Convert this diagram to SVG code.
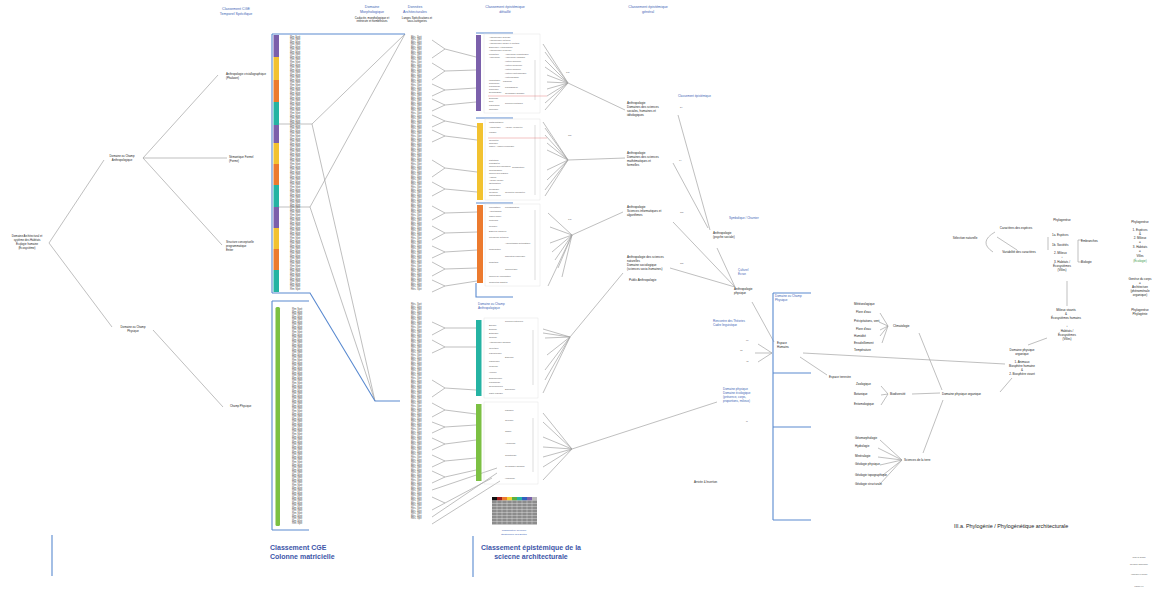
<svg xmlns="http://www.w3.org/2000/svg" xmlns:xlink="http://www.w3.org/1999/xlink" width="1157" height="597" viewBox="0 0 1157 597">
<style>
.g{stroke:#a3a3a3;stroke-width:.7;fill:none}
.b{stroke:#5a8ad0;stroke-width:1.1;fill:none}
.r{stroke:#e06565;stroke-width:.4;fill:none}
.bx{stroke:#e4e4e4;stroke-width:.5;fill:none}
.vl{stroke:#b8b8b8;stroke-width:.5;fill:none}
text{font-family:"Liberation Sans",Arial,sans-serif;fill:#222}
.t{font-size:3px}
.tl{font-size:2.8px}
.s{font-size:2.1px;fill:#555}
.h{font-size:3.6px;fill:#3d5fb5}
.hb{font-size:3px;fill:#3d5fb5}
.ti{font-size:2.9px;fill:#555}
.tj{font-size:2.6px;fill:#555}
.big{font-size:7px;font-weight:bold;fill:#3d55a8}
.m{text-anchor:middle}
</style>
<defs>
<g id="rm10"><text class="ti"><tspan x="0" y="0">Rm Spé</tspan><tspan x="0" y="2.55">Rm Spé</tspan><tspan x="0" y="5.1">Rm Spé</tspan><tspan x="0" y="7.65">Rm Spé</tspan><tspan x="0" y="10.2">Rm Spé</tspan><tspan x="0" y="12.75">Rm Spé</tspan><tspan x="0" y="15.3">Rm Spé</tspan><tspan x="0" y="17.85">Rm Spé</tspan><tspan x="0" y="20.4">Rm Spé</tspan><tspan x="0" y="22.95">Rm Spé</tspan></text></g>
<g id="rm5"><text class="ti"><tspan x="0" y="0">Rm Spé</tspan><tspan x="0" y="2.55">Rm Spé</tspan><tspan x="0" y="5.1">Rm Spé</tspan><tspan x="0" y="7.65">Rm Spé</tspan><tspan x="0" y="10.2">Rm Spé</tspan></text></g>
<g id="rs10"><text class="tj"><tspan x="0" y="0">Rés. Spé</tspan><tspan x="0" y="2.55">Rés. Spé</tspan><tspan x="0" y="5.1">Rés. Spé</tspan><tspan x="0" y="7.65">Rés. Spé</tspan><tspan x="0" y="10.2">Rés. Spé</tspan><tspan x="0" y="12.75">Rés. Spé</tspan><tspan x="0" y="15.3">Rés. Spé</tspan><tspan x="0" y="17.85">Rés. Spé</tspan><tspan x="0" y="20.4">Rés. Spé</tspan><tspan x="0" y="22.95">Rés. Spé</tspan></text></g>
<g id="rs5"><text class="tj"><tspan x="0" y="0">Rés. Spé</tspan><tspan x="0" y="2.55">Rés. Spé</tspan><tspan x="0" y="5.1">Rés. Spé</tspan><tspan x="0" y="7.65">Rés. Spé</tspan><tspan x="0" y="10.2">Rés. Spé</tspan></text></g>
</defs>
<rect width="1157" height="597" fill="#fff"/>

<!-- headers -->
<g id="headers">
<text class="h m" x="236" y="10">Classement CGE</text>
<text class="h m" x="236" y="15">Temporel Spécifique</text>
<text class="h m" x="372" y="8">Domaine</text>
<text class="h m" x="372" y="12.5">Morphologique</text>
<text class="tl m" x="372" y="19">Caducée, morphologique et</text>
<text class="tl m" x="372" y="22">intérieure et nombreuses</text>
<text class="h m" x="415" y="8">Données</text>
<text class="h m" x="415" y="12.5">Architecturales</text>
<text class="tl m" x="417" y="19">Langes Spécifications et</text>
<text class="tl m" x="417" y="22">sous-catégories</text>
<text class="h m" x="505" y="8">Classement épistémique</text>
<text class="h m" x="505" y="12.5">détaillé</text>
<text class="h m" x="648" y="8">Classement épistémique</text>
<text class="h m" x="648" y="12.5">général</text>
</g>

<!-- connectors -->
<g id="connectors">
<path class="g" d="M49,243L104,160M49,243L112,327M143,158L218,75M143,158L227,158M143,158L222,245M153,330L223,407"/>
<path class="g" d="M279,124H312L405,34M312,124L375,401M279,207H310L405,34M310,207L375,401"/>
<path class="g" d="M432,40L445,49L432,58M445,49L476,57M432,63L445,71L432,80M445,71L476,70M432,84L445,90L432,96M445,90L476,88M432,99L445,105L432,111M445,105L476,102M432,115L445,121L432,127M445,121L477,127M432,130L445,136L432,142M445,136L477,140M432,160L445,168L432,177M445,168L477,172M432,182L445,189L432,196M445,189L477,192M432,206L445,213L432,220M445,213L477,212M432,226L445,233L432,240M445,233L477,232M432,246L445,252L432,258M445,252L477,250M432,262L445,269L432,276M445,269L477,268M432,280L445,286L432,292M445,286L477,281"/>
<path class="g" d="M432,322L445,328L432,335M445,328L476,328M432,340L445,347L432,353M445,347L476,347M432,380L445,388L432,397M445,388L476,390M432,403L445,410L432,417M445,410L476,414M432,422L445,427L432,433M445,427L476,425M432,438L445,444L432,450M445,444L476,440M432,455L445,461L432,467M445,461L476,458M432,471L445,477L432,483M445,477L476,470M432,490L497,468M432,497L445,503L432,510M445,503L492,478M432,517L497,473M432,524L500,481"/>
<path class="g" d="M543,44L568,83M545,52L568,83M545,60L568,83M545,67L568,83M547,75L568,83M547,82L568,83M547,89L568,83M547,96L568,83M545,103L568,83M545,110L568,83M568,83L625,110"/>
<path class="g" d="M543,122L568,160M545,128L568,160M545,135L568,160M547,143L568,160M547,150L568,160M547,170L568,160M547,180L568,160M545,190L568,160M545,196L568,160M568,160L625,158"/>
<path class="g" d="M548,213L572,235M550,227L572,235M550,243L572,235M552,252L572,235M555,260L572,235M558,268L572,235M562,277L572,235M548,286L572,235M572,235L623,212"/>
<path class="g" d="M543,329L570,337M543,333L570,337M545,338L570,337M547,355L570,337M545,370L570,337M545,380L570,337M543,393L570,337M570,337L623,273"/>
<path class="g" d="M543,413L572,449M543,422L572,449M543,437L572,449M543,447L572,449M543,457L572,449M543,467L572,449M543,480L572,449M572,449L717,402"/>
<path class="g" d="M678,115L710,230M673,163L708,228M673,222L735,287M670,268L735,287M717,248L735,287M752,302L774,342M758,344L772,353M755,353L772,353M758,362L772,353"/>
<path class="g" d="M803,353L1005,364M800,357L827,375"/>
<path class="g" d="M880,313L888,326M879,322L888,326M880,330L888,326M880,336L888,326M882,343L888,326M919,333L942,390"/>
<path class="g" d="M881,386L888,394M881,395L888,394M881,405L888,394M912,394L940,393"/>
<path class="g" d="M880,440L902,460M878,448L902,460M878,457L902,460M880,465L902,460M883,475L902,460M880,484L902,460M923,453L943,400"/>
<path class="g" d="M1000,392L1012,378M1028,345L1047,338M1067,281V306M997,237L1017,250M995,232Q978,242 993,252M1048,237V250M1078,240V262M1078,240H1082M1078,262H1082"/>
<path class="b" d="M272,34V293M272,34H405M272,293H310L375,401H400M272,301V530M272,301H309M272,530H309"/>
<path class="b" d="M476,33H513M476,118H513M476,203H513M476,283V297H513"/>
<path class="b" d="M773,293V520M773,293H811M773,373H811M773,427H811M773,520H811"/>
<path class="b" d="M52,535V576M473,536V577"/>
</g>

<!-- left tree -->
<g id="n-root"><text class="tl m" x="27" y="237">Domaine Architectural et</text><text class="tl m" x="27" y="241">système des Habitats</text><text class="tl m" x="27" y="245">Écologie humaine</text><text class="tl m" x="27" y="249">(Écosystème)</text></g>
<g id="n-anthro"><text class="tl m" x="122" y="157">Domaine ou Champ</text><text class="tl m" x="122" y="161">Anthropologique</text></g>
<g id="n-phys"><text class="tl m" x="133" y="328">Domaine ou Champ</text><text class="tl m" x="133" y="332">Physique</text></g>
<g id="n-a1"><text class="tl" x="226" y="75">Anthropologie cristallographique</text><text class="tl" x="226" y="79">(Phakoon)</text></g>
<g id="n-a2"><text class="tl" x="229" y="158">Sémantique Formel</text><text class="tl" x="229" y="162">(Forme)</text></g>
<g id="n-a3"><text class="tl" x="226" y="243">Structure conceptuelle</text><text class="tl" x="226" y="247">programmatique</text><text class="tl" x="226" y="251">Entier</text></g>
<g id="n-p1"><text class="tl" x="230" y="407">Champ Physique</text></g>

<!-- CGE column -->
<g id="n-cge">
<rect x="273.5" y="35" width="5.5" height="22" fill="#7b60ab"/>
<rect x="273.5" y="57" width="5.5" height="23" fill="#f2c230"/>
<rect x="273.5" y="80" width="5.5" height="22" fill="#ec7a2e"/>
<rect x="273.5" y="102" width="5.5" height="23" fill="#25b3a3"/>
<rect x="273.5" y="125" width="5.5" height="18" fill="#7b60ab"/>
<rect x="273.5" y="143" width="5.5" height="21" fill="#f2c230"/>
<rect x="273.5" y="164" width="5.5" height="21" fill="#ec7a2e"/>
<rect x="273.5" y="185" width="5.5" height="22" fill="#25b3a3"/>
<rect x="273.5" y="207" width="5.5" height="21" fill="#7b60ab"/>
<rect x="273.5" y="228" width="5.5" height="21" fill="#f2c230"/>
<rect x="273.5" y="249" width="5.5" height="21" fill="#ec7a2e"/>
<rect x="273.5" y="270" width="5.5" height="22" fill="#25b3a3"/>
<rect x="275.5" y="307" width="4.5" height="219" rx="1.5" fill="#7cc043"/>
<use xlink:href="#rm10" x="290" y="37.5"/><use xlink:href="#rm10" x="290" y="63"/><use xlink:href="#rm10" x="290" y="88.5"/><use xlink:href="#rm10" x="290" y="114"/><use xlink:href="#rm10" x="290" y="139.5"/><use xlink:href="#rm10" x="290" y="165"/><use xlink:href="#rm10" x="290" y="190.5"/><use xlink:href="#rm10" x="290" y="216"/><use xlink:href="#rm10" x="290" y="241.5"/><use xlink:href="#rm10" x="290" y="267"/>
<use xlink:href="#rm10" x="292" y="310"/><use xlink:href="#rm10" x="292" y="335.5"/><use xlink:href="#rm10" x="292" y="361"/><use xlink:href="#rm10" x="292" y="386.5"/><use xlink:href="#rm10" x="292" y="412"/><use xlink:href="#rm10" x="292" y="437.5"/><use xlink:href="#rm10" x="292" y="463"/><use xlink:href="#rm10" x="292" y="488.5"/><use xlink:href="#rm5" x="292" y="514"/>
</g>

<!-- column 2 -->
<g id="n-col2">
<use xlink:href="#rs10" x="411" y="37.5"/><use xlink:href="#rs10" x="411" y="63"/><use xlink:href="#rs10" x="411" y="88.5"/><use xlink:href="#rs10" x="411" y="114"/><use xlink:href="#rs10" x="411" y="139.5"/><use xlink:href="#rs10" x="411" y="165"/><use xlink:href="#rs10" x="411" y="190.5"/><use xlink:href="#rs10" x="411" y="216"/><use xlink:href="#rs10" x="411" y="241.5"/><use xlink:href="#rs10" x="411" y="267"/>
<use xlink:href="#rs10" x="411" y="305"/><use xlink:href="#rs10" x="411" y="330.5"/><use xlink:href="#rs10" x="411" y="356"/><use xlink:href="#rs10" x="411" y="381.5"/><use xlink:href="#rs10" x="411" y="407"/><use xlink:href="#rs10" x="411" y="432.5"/><use xlink:href="#rs10" x="411" y="458"/><use xlink:href="#rs10" x="411" y="483.5"/><use xlink:href="#rs5" x="411" y="509"/>
</g>

<!-- epistemic detailed boxes -->
<g id="n-ep-purple">
<rect x="476" y="35" width="5" height="76" fill="#7b60ab"/>
<rect class="bx" x="484" y="34" width="56" height="79"/>
<path class="vl" d="M535,60V100"/><path class="r" d="M488,96H547"/>
<text class="s" x="489" y="38">Anthropologie générale</text>
<text class="s" x="489" y="41">Anthropologie culturelle</text>
<text class="s" x="489" y="44">Anthropologie sociale et politique</text>
<text class="s" x="489" y="48">Ethnologie / ethnographie</text>
<text class="s" x="489" y="51">Anthropologie religieuse</text>
<text class="s" x="489" y="55">Préhistoire</text><text class="s" x="505" y="55">Archéologie préhistorique</text>
<text class="s" x="489" y="58">Archéologie</text><text class="s" x="505" y="58">Archéologie classique</text>
<text class="s" x="505" y="62">Histoire ancienne</text>
<text class="s" x="505" y="66">Histoire médiévale</text>
<text class="s" x="505" y="70">Histoire moderne</text>
<text class="s" x="505" y="74">Histoire contemporaine</text>
<text class="s" x="505" y="78">Historiographie</text>
<text class="s" x="489" y="81">Linguistique</text><text class="s" x="503" y="82">Philologie</text>
<text class="s" x="489" y="84">Sémiologie</text>
<text class="s" x="489" y="87">Psychologie</text><text class="s" x="505" y="88">Psychanalyse</text>
<text class="s" x="489" y="90">Sociologie</text>
<text class="s" x="489" y="93">Démographie</text><text class="s" x="505" y="94">Géographie humaine</text>
<text class="s" x="489" y="99">Économie</text>
<text class="s" x="489" y="102">Droit</text><text class="s" x="505" y="104">Sciences politiques</text>
<text class="s" x="489" y="106">Philosophie</text>
<text class="s" x="489" y="110">Théologie</text>
</g>
<g id="n-ep-yellow">
<rect x="477" y="123" width="6" height="77" fill="#f2c230"/>
<rect class="bx" x="485" y="119" width="55" height="81"/>
<path class="vl" d="M535,125V195"/><path class="r" d="M488,138H547"/>
<text class="s" x="489" y="123">Mathématiques</text>
<text class="s" x="489" y="128">Arithmétique</text><text class="s" x="505" y="128">Algèbre, géométrie</text>
<text class="s" x="489" y="133">Logique</text>
<text class="s" x="489" y="141">Géométrie</text>
<text class="s" x="489" y="144">Topologie</text>
<text class="s" x="489" y="147">Calcul / Analyse numérique</text>
<text class="s" x="489" y="161">Statistique</text>
<text class="s" x="489" y="164">Probabilités</text>
<text class="s" x="489" y="167">Théorie des ensembles</text><text class="s" x="512" y="168">Combinatoire</text>
<text class="s" x="489" y="171">Cryptographie</text>
<text class="s" x="489" y="174">Théorie des graphes</text>
<text class="s" x="489" y="178">Analyse</text>
<text class="s" x="489" y="181">Algèbre linéaire</text>
<text class="s" x="489" y="184">Optimisation</text>
<text class="s" x="489" y="190">Mécanique</text>
<text class="s" x="489" y="193">Géodésie</text><text class="s" x="505" y="193">Géométrie descriptive</text>
<text class="s" x="489" y="196">Cartographie</text>
</g>
<g id="n-ep-orange">
<rect x="477" y="205" width="6" height="78" fill="#ec7a2e"/>
<rect class="bx" x="485" y="204" width="55" height="82"/>
<path class="vl" d="M535,210V280"/>
<text class="s" x="489" y="208">Informatique</text><text class="s" x="505" y="208">Programmation</text>
<text class="s" x="489" y="212">Algorithmique</text>
<text class="s" x="489" y="217">Calcul formel</text>
<text class="s" x="489" y="221">Systèmes</text>
<text class="s" x="489" y="227">Réseaux</text>
<text class="s" x="489" y="232">Bases de données</text>
<text class="s" x="489" y="238">Intelligence artificielle</text>
<text class="s" x="505" y="244">Apprentissage automatique</text>
<text class="s" x="489" y="250">Modélisation</text>
<text class="s" x="505" y="257">Simulation numérique</text>
<text class="s" x="489" y="263">Robotique</text>
<text class="s" x="505" y="270">Cybernétique</text>
<text class="s" x="489" y="277">Théorie de l'information</text>
<text class="s" x="489" y="283">Conception assistée</text>
</g>
<g id="n-ep-teal">
<text class="hb" x="478" y="305">Domaine ou Champ</text><text class="hb" x="478" y="309">Anthropologique</text>
<rect x="476" y="320" width="5.5" height="76" fill="#25b3a3"/>
<rect class="bx" x="484" y="318" width="54" height="80"/>
<path class="vl" d="M533,330V385"/>
<text class="s" x="505" y="322">Sciences naturelles</text>
<text class="s" x="489" y="326">Biologie</text>
<text class="s" x="489" y="330">Écologie</text>
<text class="s" x="489" y="334">Botanique</text>
<text class="s" x="489" y="338">Zoologie</text>
<text class="s" x="489" y="343">Anthropologie physique</text>
<text class="s" x="489" y="349">Génétique</text>
<text class="s" x="489" y="354">Paléontologie</text>
<text class="s" x="505" y="358">Éthologie</text>
<text class="s" x="489" y="362">Physiologie</text>
<text class="s" x="489" y="367">Médecine</text>
<text class="s" x="489" y="373">Hygiène</text>
<text class="s" x="489" y="379">Épidémiologie</text>
<text class="s" x="489" y="383">Psychologie</text>
<text class="s" x="489" y="387">Neurosciences</text>
<text class="s" x="505" y="390">Ergonomie</text>
<text class="s" x="489" y="394">Santé publique</text>
</g>
<g id="n-ep-green">
<rect x="476" y="404" width="5.5" height="77" fill="#7cc043"/>
<rect class="bx" x="484" y="402" width="54" height="82"/>
<path class="vl" d="M533,418V472"/>
<text class="s" x="505" y="411">Physique</text>
<text class="s" x="505" y="421">Géologie</text>
<text class="s" x="505" y="432">Chimie</text>
<text class="s" x="505" y="444">Astronomie</text>
<text class="s" x="505" y="456">Climatologie</text>
<text class="s" x="505" y="467">Géographie physique</text>
<text class="s" x="505" y="479">Hydrologie</text>
</g>
<g id="n-chart">
<rect x="492" y="497" width="5" height="3.5" fill="#111"/><rect x="497" y="497" width="5" height="3.5" fill="#a02020"/><rect x="502" y="497" width="5" height="3.5" fill="#ec7a2e"/><rect x="507" y="497" width="5" height="3.5" fill="#f2d030"/><rect x="512" y="497" width="5" height="3.5" fill="#5cb040"/><rect x="517" y="497" width="5" height="3.5" fill="#25b3a3"/><rect x="522" y="497" width="5" height="3.5" fill="#3060c0"/><rect x="527" y="497" width="5" height="3.5" fill="#7b60ab"/><rect x="532" y="497" width="5" height="3.5" fill="#bbb"/>
<rect x="492" y="500.5" width="45" height="24" fill="#8c8c8c"/>
<path d="M492,503.5H537M492,506.5H537M492,509.5H537M492,512.5H537M492,515.5H537M492,518.5H537M492,521.5H537M497,500.5V524.5M502,500.5V524.5M507,500.5V524.5M512,500.5V524.5M517,500.5V524.5M522,500.5V524.5M527,500.5V524.5M532,500.5V524.5" stroke="#e8e8e8" stroke-width=".4"/>
<text class="hb m" x="514" y="531" style="font-size:2.4px">Classification Générale</text>
<text class="hb m" x="514" y="535" style="font-size:2.4px">Épistémique des Entités</text>
</g>

<!-- numbers -->
<g id="n-numbers">
<text class="s" x="566" y="73">340</text><text class="s" x="568" y="136">360</text><text class="s" x="568" y="220">340</text>
<text class="s" x="680" y="108">84</text><text class="s" x="679" y="161">74</text><text class="s" x="680" y="213">360</text><text class="s" x="680" y="264">360</text>
</g>

<!-- general -->
<g id="n-g1"><text class="t" x="627" y="104">Anthropologie</text><text class="t" x="627" y="108">Domaines des sciences</text><text class="t" x="627" y="112">sociales, humaines et</text><text class="t" x="627" y="116">idéologiques</text></g>
<g id="n-g2"><text class="t" x="627" y="154">Anthropologie</text><text class="t" x="627" y="158">Domaines des sciences</text><text class="t" x="627" y="162">mathématiques et</text><text class="t" x="627" y="166">formelles</text></g>
<g id="n-g3"><text class="t" x="627" y="208">Anthropologie</text><text class="t" x="627" y="212">Sciences informatiques et</text><text class="t" x="627" y="216">algorithmes</text></g>
<g id="n-g4"><text class="t" x="627" y="258">Anthropologie des sciences</text><text class="t" x="627" y="262">naturelles</text><text class="t" x="627" y="266">Domaine sociologique</text><text class="t" x="627" y="270">(sciences socio-humaines)</text><text class="t" x="629" y="281">Public Anthropologie</text></g>
<g id="n-ce"><text class="hb" x="678" y="97">Classement épistémique</text></g>
<g id="n-sym"><text class="hb" x="729" y="219">Symbolique / Charnier</text></g>
<g id="n-psy"><text class="t" x="713" y="234">Anthropologie</text><text class="t" x="713" y="238">(psyche sociale)</text></g>
<g id="n-cult"><text class="hb" x="738" y="271">Culturel</text><text class="hb" x="738" y="275">Écran</text></g>
<g id="n-aphys"><text class="t" x="734" y="290">Anthropologie</text><text class="t" x="734" y="294">physique</text></g>
<g id="n-dcp"><text class="hb" x="775" y="297">Domaine ou Champ</text><text class="hb" x="775" y="301">Physique</text></g>
<g id="n-renc"><text class="hb" x="713" y="322">Rencontre des Théories</text><text class="hb" x="713" y="326">Cadre linguistique</text>
<text class="s" x="746" y="341">90</text><text class="s" x="740" y="351">72</text><text class="s" x="746" y="362">48</text></g>
<g id="n-esp"><text class="t" x="777" y="344">Espace</text><text class="t" x="777" y="348">Humains</text></g>
<g id="n-dpe"><text class="hb" x="723" y="390">Domaine physique</text><text class="hb" x="723" y="394">Domaine écologique</text><text class="hb" x="723" y="398">(présence, corps,</text><text class="hb" x="723" y="402">proportions, milieux)</text></g>
<g id="n-m"><text class="s" x="746" y="422">M</text></g>
<g id="n-arr"><text class="tl" x="694" y="483">Arrivée &amp; Insertion</text></g>
<g id="n-espt"><text class="t" x="829" y="378">Espace terrestre</text></g>

<!-- physical branches -->
<g id="n-clim">
<text class="t" x="854" y="305">Météorologique</text><text class="t" x="856" y="313">Flore d'eau</text><text class="t" x="854" y="322">Précipitations, vent</text><text class="t" x="856" y="330">Flore d'eau</text><text class="t" x="854" y="337">Humidité</text><text class="t" x="854" y="344">Ensoleillement</text><text class="t" x="854" y="351">Température</text>
<text class="t" x="893" y="327">Climatologie</text>
</g>
<g id="n-bio">
<text class="t" x="856" y="385">Zoologique</text><text class="t" x="854" y="395">Botanique</text><text class="t" x="854" y="405">Entomologique</text>
<text class="t" x="890" y="395">Biodiversité</text>
</g>
<g id="n-terre">
<text class="t" x="855" y="439">Géomorphologie</text><text class="t" x="855" y="447">Hydrologie</text><text class="t" x="855" y="457">Minéralogie</text><text class="t" x="855" y="465">Géologie physique</text><text class="t" x="855" y="476">Géologie topographique</text><text class="t" x="855" y="485">Géologie structurale</text>
<text class="t" x="904" y="461">Sciences de la terre</text>
</g>
<g id="n-dpo"><text class="t" x="942" y="395">Domaine physique organique</text></g>

<!-- phylogenesis cluster -->
<g id="n-dpo2"><text class="t m" x="1022" y="351">Domaine physique</text><text class="t m" x="1022" y="355">organique</text><text class="t m" x="1022" y="363">1. Animaux</text><text class="t m" x="1022" y="367">Biosphère humaine</text><text class="t m" x="1022" y="371">&amp;</text><text class="t m" x="1022" y="375">2. Biosphère vivant</text></g>
<g id="n-hab"><text class="t m" x="1067" y="327">↓</text><text class="t m" x="1067" y="332">Habitats /</text><text class="t m" x="1067" y="336">Écosystèmes</text><text class="t m" x="1067" y="340">(Villes)</text></g>
<g id="n-mil"><text class="t m" x="1066" y="311">Milieux vivants</text><text class="t m" x="1066" y="315">&amp;</text><text class="t m" x="1066" y="319">Écosystèmes humains</text></g>
<g id="n-phylo"><text class="t m" x="1062" y="221">Phylogenèse</text><text class="t" x="1052" y="236">1a. Espèces</text><text class="t" x="1052" y="246">1b. Sociétés</text><text class="t" x="1054" y="254">2. Milieux</text><text class="t m" x="1062" y="258">↓</text><text class="t m" x="1062" y="263">3. Habitats /</text><text class="t m" x="1062" y="267">Écosystèmes</text><text class="t m" x="1062" y="271">(Villes)</text></g>
<g id="n-emb"><text class="t" x="1081" y="242">Embranches</text><text class="t" x="1081" y="263">Biologie</text></g>
<g id="n-sel"><text class="t m" x="965" y="239">Sélection naturelle</text></g>
<g id="n-car"><text class="t m" x="1016" y="229">Caractères des espèces</text></g>
<g id="n-var"><text class="t m" x="1019" y="253">Variabilité des caractères</text></g>
<g id="n-right">
<text class="t m" x="1140" y="223">Phylogenèse</text>
<text class="t m" x="1140" y="231">1. Espèces</text><text class="t m" x="1140" y="235">&amp;</text><text class="t m" x="1140" y="239">2. Milieux</text><text class="t m" x="1140" y="243">=</text><text class="t m" x="1140" y="248">3. Habitats</text><text class="t m" x="1140" y="252">=</text><text class="t m" x="1140" y="257">Villes</text><text class="t m" x="1140" y="262" style="fill:#3a9a4a">(Écologie)</text>
<text class="t m" x="1140" y="280">Genèse du corps</text><text class="t m" x="1140" y="284">=</text><text class="t m" x="1140" y="288">Architecture</text><text class="t m" x="1140" y="292">(phénoménale</text><text class="t m" x="1140" y="296">organique)</text>
<text class="t m" x="1140" y="311">Phylogenèse</text><text class="t m" x="1140" y="315">Phylogénie</text>
</g>

<!-- titles -->
<g id="titles">
<text class="big" x="270" y="550">Classement CGE</text>
<text class="big" x="270" y="559">Colonne matricielle</text>
<text class="big m" x="531" y="550">Classement épistémique  de la</text>
<text class="big m" x="531" y="559">sciecne architecturale</text>
<text x="954" y="528" style="font-size:5.4px;fill:#222">III.a. Phylogénie / Phylogénétique architecturale</text>
<text class="s m" x="1139" y="558" style="font-size:1.6px">Thèse de doctorat</text>
<text class="s m" x="1139" y="565" style="font-size:1.6px">Phylogénie architecturale</text>
<text class="s m" x="1139" y="575" style="font-size:1.6px">Architecture et écologie</text>
<text class="s m" x="1139" y="587" style="font-size:1.6px">Planche III.a</text>
</g>
</svg>
